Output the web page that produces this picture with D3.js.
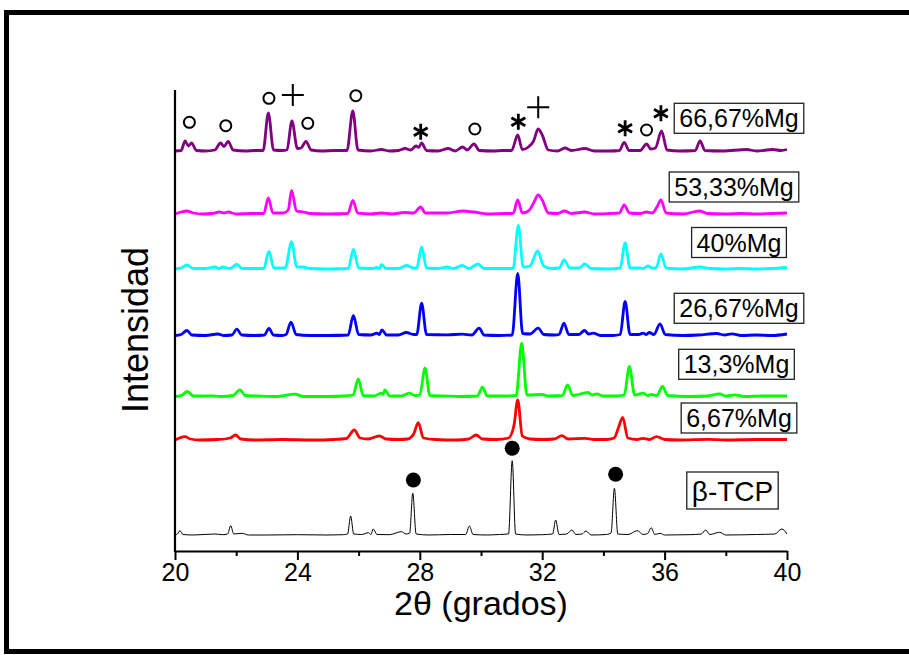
<!DOCTYPE html>
<html>
<head>
<meta charset="utf-8">
<script src="https://cdn.jsdelivr.net/npm/d3@7"></script>
<style>
  body { margin: 0; background: #fff; }
  svg { display: block; }
  text { font-family: "Liberation Sans", Arial, Helvetica, sans-serif; fill: #000; }
</style>
</head>
<body>
<svg id="chart" width="909" height="655"></svg>
<script>
// X-ray diffraction patterns, 2θ from 20° to 40°, stacked with vertical offsets.
// Each pattern is a list of [2θ, intensity above its own baseline] points.

const seriesNames = ["β-TCP", "6,67%Mg", "13,3%Mg", "26,67%Mg", "40%Mg", "53,33%Mg", "66,67%Mg"];
const seriesOffsets = [15, 110, 153.5, 214.5, 281, 336, 399];

const tcp = [[20,0],[20.08,1],[20.16,4.3],[20.26,0.5],[20.6,0],[21.3,1],[21.55,0.3],[21.72,1],[21.82,9.3],[21.92,1],[22.19,1.7],[22.4,0],[23,0],[24,0.3],[25,0],[25.5,0.3],[25.64,1],[25.74,19],[25.84,1],[26.1,0.5],[26.32,2.3],[26.4,0.5],[26.48,6],[26.6,0.5],[27,0.3],[27.4,3.3],[27.55,1],[27.67,2],[27.77,41.7],[27.88,1],[28.3,0],[29,0.5],[29.5,0.5],[29.62,9],[29.74,0.5],[30.2,0],[30.6,0.5],[30.9,1],[31.02,74.3],[31.13,1],[31.5,0],[32,0.3],[32.34,1],[32.44,15],[32.55,0.5],[32.8,1],[32.97,5],[33.1,0.5],[33.3,1],[33.43,4],[33.6,0],[34.1,0.5],[34.25,2],[34.36,46.7],[34.47,1],[34.8,0.5],[35.11,4.3],[35.3,0.5],[35.45,1.5],[35.56,7.3],[35.68,0.5],[35.85,1.7],[36,0],[36.8,0.3],[37.2,1],[37.34,5],[37.48,0.5],[37.8,2.7],[38,0],[39,0.5],[39.6,1],[39.83,6],[40,1]];

const mg667 = [[20,0],[20.15,2],[20.33,3.3],[20.5,1],[20.8,0],[21.4,0.5],[21.8,2],[21.98,5],[22.15,1],[22.6,0],[23.5,0.5],[24.5,0],[25.2,0.5],[25.6,1.5],[25.86,10],[26.05,2],[26.3,1],[26.68,4],[26.9,1],[27.3,0.5],[27.6,1],[27.8,6],[27.95,17.3],[28.12,2],[28.5,0.5],[29.2,0],[29.6,1],[29.84,5],[30.05,1],[30.5,0.5],[30.9,2],[31.08,15],[31.2,40],[31.35,4],[31.6,1],[32,0.5],[32.4,1],[32.64,4.3],[32.85,1],[33.4,1.7],[33.7,0.5],[34.1,0.5],[34.35,2],[34.5,13],[34.63,22.7],[34.8,2],[35.1,0.5],[35.3,1.7],[35.5,0.5],[35.74,3.3],[36,0.5],[36.5,0],[37.4,0.7],[38,0],[39,0.5],[40,0.5]];

const mg133 = [[20,0],[20.2,1],[20.41,5],[20.6,0.5],[20.9,0.5],[21.2,0.7],[21.5,0],[21.9,1],[22.12,6.7],[22.3,1],[22.7,0.5],[23.3,0],[23.92,2.3],[24.2,0],[25,0],[25.5,0.5],[25.82,1.5],[25.99,17.7],[26.15,1],[26.5,0.5],[26.74,3.3],[26.8,2],[26.86,6.7],[27.02,0.5],[27.4,0.5],[27.66,3.3],[27.85,1],[28,1.5],[28.17,28.3],[28.33,1],[28.8,0.5],[29.3,0],[29.88,0.5],[30.05,9.3],[30.2,0.5],[30.8,0.5],[31.15,1],[31.33,53.3],[31.5,1.5],[32,2],[32.2,0.5],[32.66,1],[32.83,11.7],[33,1],[33.5,4],[33.63,1.5],[33.78,2.7],[34,0.5],[34.4,0.5],[34.68,1.5],[34.85,30],[35.02,1.5],[35.3,3.3],[35.45,1],[35.55,2],[35.75,1],[35.93,10],[36.1,1],[36.8,0],[37.4,0.5],[37.8,2.7],[38,0.5],[38.3,1.7],[38.6,0],[39.2,0.5],[40,0.5]];

const mg2667 = [[20,0],[20.2,1],[20.39,5],[20.55,0.5],[21,0],[21.4,1.5],[21.6,0],[21.86,0.5],[22.02,6.3],[22.18,0.5],[22.6,0],[22.92,0.5],[23.07,7],[23.22,0.5],[23.5,0],[23.63,1],[23.79,13.3],[23.96,1],[24.4,0],[25,0],[25.66,0.5],[25.83,20],[26,1],[26.4,0.5],[26.6,2.3],[26.68,1],[26.76,5.7],[26.92,0.5],[27.3,0.5],[27.56,3],[27.8,1],[27.9,1],[28.06,32.3],[28.22,1],[28.9,0.7],[29.39,1.3],[29.7,0.5],[29.94,7.3],[30.1,0.5],[30.6,0],[31.02,0.5],[31.2,62],[31.36,2],[31.6,1.5],[31.87,7.3],[32.05,1],[32.4,0.5],[32.55,1],[32.71,12.3],[32.87,1],[33.2,1],[33.38,5],[33.52,1.5],[33.67,2.3],[33.9,0],[34.3,0],[34.55,1],[34.71,34],[34.87,1],[35.15,1],[35.3,2.3],[35.4,1],[35.5,3],[35.65,1],[35.85,11.7],[36.02,1],[36.6,0],[37.1,0.5],[37.7,2],[37.95,0.5],[38.2,1.7],[38.5,0],[39,0.5],[39.5,0],[40,1.5]];

const mg40 = [[20,0],[20.2,1],[20.39,4],[20.6,0.5],[21,0.5],[21.3,2],[21.45,0.5],[21.55,2],[21.8,0.5],[22.02,4.5],[22.2,0.5],[22.9,0.5],[23.07,17.7],[23.23,1],[23.6,1],[23.81,27],[23.98,2],[24.2,2],[24.4,0.5],[25,0],[25.66,0.5],[25.83,19.5],[26,1],[26.45,0.5],[26.6,1.5],[26.68,0.5],[26.75,4.5],[26.9,0.5],[27.3,0.5],[27.57,3.5],[27.8,1],[27.9,1],[28.06,22],[28.22,1],[28.6,0.5],[28.9,2],[29.1,0.5],[29.39,3.5],[29.6,0.5],[29.9,5],[30.1,0.5],[30.6,0.5],[31.05,0.5],[31.22,43.7],[31.38,2],[31.6,3],[31.85,18],[32.05,3],[32.3,0.5],[32.55,1],[32.72,9],[32.9,1],[33.2,1],[33.4,5],[33.6,0.5],[34.2,0],[34.55,1],[34.71,26],[34.87,1],[35.2,1],[35.3,0.5],[35.45,3],[35.6,1],[35.72,1],[35.88,15],[36.05,1],[36.6,0],[37.16,2],[37.5,0.5],[38,0],[38.5,0.5],[39,0],[39.5,0.5],[40,1.5]];

const mg5333 = [[20,0],[20.2,2],[20.38,3],[20.6,1],[20.9,0],[21.2,0.5],[21.46,2],[21.6,1],[21.74,2],[22,0],[22.5,0.5],[22.9,0.5],[23.05,16],[23.2,1],[23.55,1],[23.7,4],[23.81,23.5],[23.97,3],[24.2,2],[24.4,0.5],[25,0],[25.65,0.5],[25.81,13.5],[25.97,1],[26.4,0],[26.75,1],[27.1,0],[27.5,1.5],[27.8,1],[28.03,7],[28.18,1],[28.9,1],[29.4,3],[29.77,2],[30.2,0],[30.8,0.5],[31.05,0.5],[31.2,14],[31.35,1],[31.55,3],[31.72,11],[31.87,19],[32,14],[32.2,1],[32.5,0.5],[32.73,3],[32.95,0.5],[33.4,2],[33.7,0],[34.2,0.5],[34.52,1],[34.68,9],[34.85,1],[35.2,0.5],[35.4,2],[35.6,1],[35.75,7],[35.88,14],[36.05,1],[36.6,0],[37.14,3],[37.4,0.5],[38,0],[38.5,0.5],[39,0],[39.5,0.5],[40,1]];

const mg6667 = [[20,0],[20.2,0.5],[20.33,10],[20.44,5],[20.54,8],[20.7,0.5],[21,0],[21.3,1],[21.49,8],[21.6,4.5],[21.74,9.5],[21.9,1],[22.3,0],[22.6,0.5],[22.88,0.5],[23.05,38],[23.22,1],[23.5,0.5],[23.66,1],[23.82,30],[24,2.5],[24.12,3],[24.28,9.5],[24.45,1],[24.8,0],[25.2,0.5],[25.62,0.5],[25.81,40],[25.98,1],[26.4,0],[26.75,1.5],[27,0],[27.3,0.5],[27.52,2.5],[27.7,1],[27.88,5],[27.96,3.5],[28.06,8],[28.22,0.5],[28.6,0],[28.93,2.5],[29.15,0],[29.4,4],[29.55,1],[29.77,7],[29.95,0.5],[30.4,0],[30.7,0.5],[31,0.5],[31.2,16],[31.35,1.5],[31.55,4],[31.72,10],[31.87,22],[32,16],[32.2,1],[32.5,0],[32.75,3],[32.95,0.5],[33.4,2.5],[33.7,0],[34.2,0],[34.52,0.5],[34.68,8.7],[34.84,0.5],[35.2,0.5],[35.41,7],[35.55,2],[35.7,3],[35.9,20],[36.08,1],[36.5,0],[37,0.5],[37.16,10],[37.32,0.5],[37.9,0],[38.68,1.5],[39,0],[39.54,1.5],[39.8,0.5],[40,1.5]];

const seriesValues = [tcp, mg667, mg133, mg2667, mg40, mg5333, mg6667];

// Phase markers, [2θ, height on the stacked intensity scale]
const circleMarks = [[20.47,427.7],[21.66,424.3],[23.07,451.7],[24.34,426.7],[25.91,454.3],[29.80,421],[35.41,420]];
const plusMarks = [[23.85,455],[31.87,442.7]];
const starMarks = [[28.03,418.3],[31.22,428.3],[34.71,421.7],[35.88,436.7]];
const dotMarks = [[27.79,70],[31.02,101.7],[34.40,75.7]];

const xTicks = [20, 24, 28, 32, 36, 40];
const xMinorTicks = [22, 26, 30, 34, 38];

// ---- styling / layout ----
const colors = ["#000000", "#ff0000", "#00ff00", "#0000ff", "#00ffff", "#ff00ff", "#800080"];
const widths = [1, 2.8, 2.8, 2.8, 2.8, 2.8, 2.8];
const labelBoxes = [
  { cx: 732.5, cy: 490.5, fs: 28, h: 37 },
  { cx: 739, cy: 418, fs: 25, h: 30 },
  { cx: 736.5, cy: 364.3, fs: 25, h: 30 },
  { cx: 739, cy: 308.3, fs: 25, h: 30 },
  { cx: 739, cy: 242.5, fs: 25, h: 30 },
  { cx: 734, cy: 187, fs: 25, h: 30 },
  { cx: 739, cy: 118.3, fs: 25, h: 30 }
];

const svg = d3.select("#chart");

// outer frame
svg.append("rect")
  .attr("x", 6.5).attr("y", 12.5)
  .attr("width", 930).attr("height", 639)
  .attr("fill", "none").attr("stroke", "#000").attr("stroke-width", 5);

const x = d3.scaleLinear().domain([20, 40]).range([175, 787]);
const y = d3.scaleLinear().domain([0, 460]).range([550, 90]);

// patterns
const line = d3.line().curve(d3.curveMonotoneX);
const g = svg.append("g");
seriesValues.forEach((vals, i) => {
  const off = seriesOffsets[i];
  g.append("path")
    .attr("d", line.x(d => x(d[0])).y(d => y(d[1] + off))(vals))
    .attr("fill", "none")
    .attr("stroke", colors[i])
    .attr("stroke-width", widths[i])
    .attr("stroke-linejoin", "round");
});

// axes
const xAxis = svg.append("g").attr("transform", "translate(0,551)")
  .call(d3.axisBottom(x).tickValues(xTicks).tickFormat(d3.format("d")).tickSize(9).tickSizeOuter(0).tickPadding(3));
svg.append("g").attr("transform", "translate(0,551)")
  .call(d3.axisBottom(x).tickValues(xMinorTicks).tickFormat("").tickSize(5).tickSizeOuter(0))
  .select(".domain").remove();
svg.selectAll(".tick line").attr("stroke", "#000").attr("stroke-width", 2);
xAxis.select(".domain").attr("stroke", "#000").attr("stroke-width", 2.2);
xAxis.selectAll(".tick text").attr("font-size", 25).attr("fill", "#000")
  .attr("font-family", "'Liberation Sans', Arial, sans-serif");

const yAxis = svg.append("g").attr("transform", "translate(175,0)")
  .call(d3.axisLeft(y).tickValues([]).tickSizeOuter(0));
yAxis.select(".domain").attr("stroke", "#000").attr("stroke-width", 2.2)
  .attr("d", `M0,${y(460)}V552`);

// axis titles
svg.append("text").attr("x", 481).attr("y", 615).attr("text-anchor", "middle")
  .attr("font-size", 34).text("2θ (grados)");
svg.append("text").attr("transform", "translate(148,330) rotate(-90)")
  .attr("text-anchor", "middle").attr("font-size", 36).text("Intensidad");

// series labels in boxes
seriesNames.forEach((name, i) => {
  const b = labelBoxes[i];
  const lg = svg.append("g");
  const t = lg.append("text").attr("x", b.cx).attr("y", b.cy + b.fs * 0.36)
    .attr("text-anchor", "middle").attr("font-size", b.fs).text(name);
  const w = t.node().getComputedTextLength() + 10;
  lg.insert("rect", "text")
    .attr("x", b.cx - w / 2).attr("y", b.cy - b.h / 2)
    .attr("width", w).attr("height", b.h)
    .attr("fill", "#fff").attr("stroke", "#222").attr("stroke-width", 1.3);
});

// markers
const mk = svg.append("g");
mk.selectAll("circle.open").data(circleMarks).join("circle")
  .attr("class", "open")
  .attr("cx", d => x(d[0])).attr("cy", d => y(d[1])).attr("r", 5.5)
  .attr("fill", "none").attr("stroke", "#000").attr("stroke-width", 2);

mk.selectAll("path.plus").data(plusMarks).join("path")
  .attr("class", "plus")
  .attr("d", d => {
    const p = d3.path(), cx = x(d[0]), cy = y(d[1]), r = 11;
    p.moveTo(cx - r, cy); p.lineTo(cx + r, cy);
    p.moveTo(cx, cy - r); p.lineTo(cx, cy + r);
    return p.toString();
  })
  .attr("stroke", "#000").attr("stroke-width", 2).attr("fill", "none");

mk.selectAll("path.star").data(starMarks).join("path")
  .attr("class", "star")
  .attr("d", d => {
    const p = d3.path(), cx = x(d[0]), cy = y(d[1]), r = 8;
    for (let k = 0; k < 3; k++) {
      const a = Math.PI / 2 + k * Math.PI / 3;
      p.moveTo(cx + r * Math.cos(a), cy + r * Math.sin(a));
      p.lineTo(cx - r * Math.cos(a), cy - r * Math.sin(a));
    }
    return p.toString();
  })
  .attr("stroke", "#000").attr("stroke-width", 2.8).attr("fill", "none");

mk.selectAll("circle.dot").data(dotMarks).join("circle")
  .attr("class", "dot")
  .attr("cx", d => x(d[0])).attr("cy", d => y(d[1])).attr("r", 7.5)
  .attr("fill", "#000");
</script>
</body>
</html>
